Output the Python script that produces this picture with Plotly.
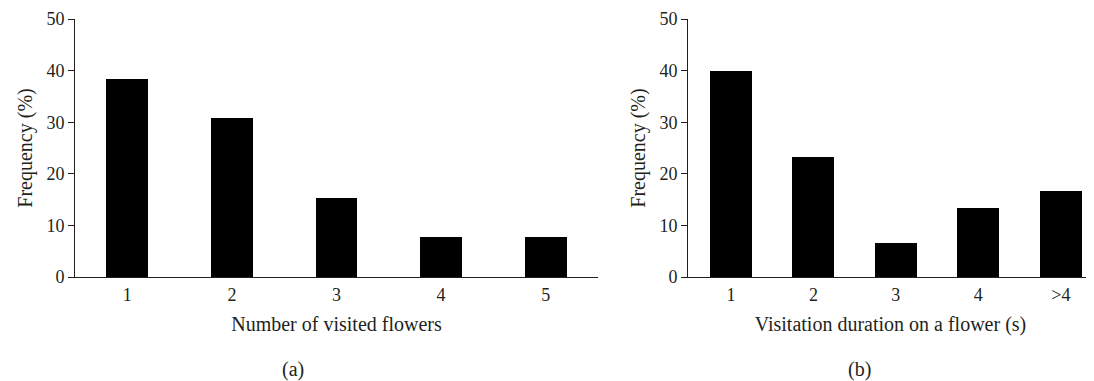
import plotly.graph_objects as go
from plotly.subplots import make_subplots

cats_a = ["1", "2", "3", "4", "5"]
freq_a = [38.46, 30.77, 15.38, 7.69, 7.69]
cats_b = ["1", "2", "3", "4", ">4"]
freq_b = [40.0, 23.33, 6.67, 13.33, 16.67]
y_ticks = [0, 10, 20, 30, 40, 50]

# page body has an 8px margin; size the figure to fill the rest of the window
OFF = 8
W, H = 1094 - OFF, 381 - OFF
TICKFONT = dict(family="Liberation Serif, Times New Roman, serif", size=18, color="#231f20")
TITLEFONT = dict(family="Liberation Serif, Times New Roman, serif", size=20, color="#231f20")


def px(x):
    return (x - OFF) / W


def py(y):
    return (H - (y - OFF)) / H


fig = make_subplots(rows=1, cols=2)
fig.add_trace(go.Bar(x=list(range(len(cats_a))), y=freq_a, marker=dict(color="#000000", line=dict(width=0)),
                     width=0.40, showlegend=False), row=1, col=1)
fig.add_trace(go.Bar(x=list(range(len(cats_b))), y=freq_b, marker=dict(color="#000000", line=dict(width=0)),
                     width=0.51, showlegend=False), row=1, col=2)

ydom = [py(277), py(19)]
xdom1 = [px(75), px(598)]
xdom2 = [px(688), px(1093)]

common_x = dict(showgrid=False, zeroline=False, showline=True, linecolor="#231f20", linewidth=1,
                ticks="outside", ticklen=1, tickcolor="rgba(0,0,0,0)", tickfont=TICKFONT,
                title_font=TITLEFONT, title_standoff=13, automargin=False)
common_y = dict(showgrid=False, zeroline=False, showline=True, linecolor="#231f20", linewidth=1,
                ticks="outside", ticklen=6, tickcolor="#231f20", tickfont=TICKFONT,
                range=[0, 50], tickvals=y_ticks, title_font=TITLEFONT, title_text="Frequency (%)",
                title_standoff=8, automargin=False)

fig.update_xaxes(domain=xdom1, range=[-0.5, 4.5], tickvals=list(range(5)), ticktext=cats_a,
                 title_text="Number of visited flowers", row=1, col=1, **common_x)
fig.update_xaxes(domain=xdom2, range=[-0.52, 4.39], tickvals=list(range(5)), ticktext=cats_b,
                 title_text="Visitation duration on a flower (s)", row=1, col=2, **common_x)
fig.update_yaxes(domain=ydom, row=1, col=1, **common_y)
fig.update_yaxes(domain=ydom, row=1, col=2, **common_y)

fig.add_annotation(text="(a)", x=px(293), y=py(369), xref="paper", yref="paper",
                   showarrow=False, font=TITLEFONT, xanchor="center", yanchor="middle")
fig.add_annotation(text="(b)", x=px(859), y=py(369), xref="paper", yref="paper",
                   showarrow=False, font=TITLEFONT, xanchor="center", yanchor="middle")

fig.update_layout(width=W, height=H, margin=dict(l=0, r=0, t=0, b=0, autoexpand=False),
                  paper_bgcolor="white", plot_bgcolor="white", bargap=0)
fig.write_html("out.html")
